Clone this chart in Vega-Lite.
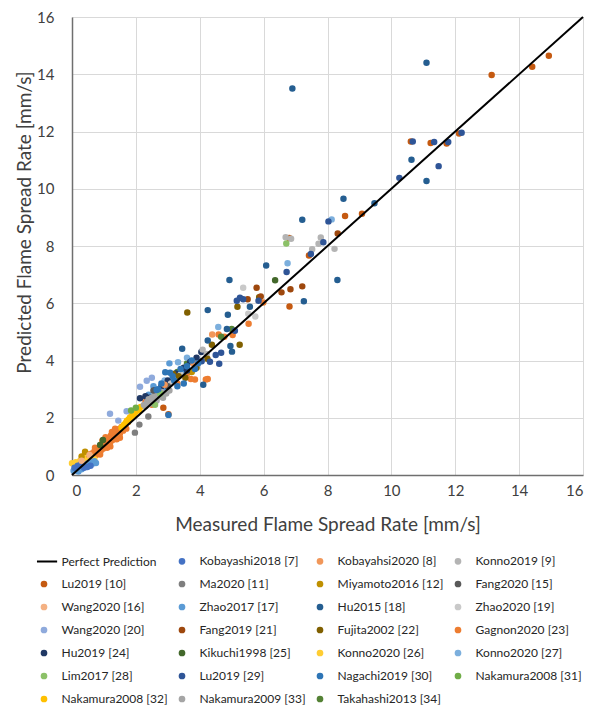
{
"$schema": "https://vega.github.io/schema/vega-lite/v6.json",
"width": 511, "height": 458,
"autosize": {"type": "none"},
"padding": {"left": 72, "top": 17, "right": 15, "bottom": 234},
"background": "white",
"config": {"font": "Lato", "view": {"stroke": null}},
"datasets": {
"line": [{"x": 0, "y": 0}, {"x": 16, "y": 16}],
"pts": [
{"s":"Gagnon2020 [23]","x":0.15,"y":0.35},{"s":"Gagnon2020 [23]","x":0.2,"y":0.3},{"s":"Gagnon2020 [23]","x":0.25,"y":0.45},{"s":"Gagnon2020 [23]","x":0.3,"y":0.38},{"s":"Gagnon2020 [23]","x":0.35,"y":0.5},{"s":"Gagnon2020 [23]","x":0.4,"y":0.42},{"s":"Gagnon2020 [23]","x":0.45,"y":0.6},{"s":"Gagnon2020 [23]","x":0.5,"y":0.5},{"s":"Gagnon2020 [23]","x":0.55,"y":0.65},{"s":"Gagnon2020 [23]","x":0.6,"y":0.55},{"s":"Gagnon2020 [23]","x":0.62,"y":0.75},{"s":"Gagnon2020 [23]","x":0.68,"y":0.62},{"s":"Gagnon2020 [23]","x":0.7,"y":0.82},{"s":"Gagnon2020 [23]","x":0.75,"y":0.7},{"s":"Gagnon2020 [23]","x":0.78,"y":0.9},{"s":"Gagnon2020 [23]","x":0.82,"y":0.78},{"s":"Gagnon2020 [23]","x":0.85,"y":0.95},{"s":"Gagnon2020 [23]","x":0.9,"y":0.85},{"s":"Gagnon2020 [23]","x":0.92,"y":1.05},{"s":"Gagnon2020 [23]","x":0.97,"y":0.92},{"s":"Gagnon2020 [23]","x":1.0,"y":1.1},{"s":"Gagnon2020 [23]","x":1.05,"y":0.98},{"s":"Gagnon2020 [23]","x":1.08,"y":1.2},{"s":"Gagnon2020 [23]","x":1.12,"y":1.05},{"s":"Gagnon2020 [23]","x":1.15,"y":1.3},{"s":"Gagnon2020 [23]","x":1.2,"y":1.15},{"s":"Gagnon2020 [23]","x":1.22,"y":1.38},{"s":"Gagnon2020 [23]","x":1.27,"y":1.22},{"s":"Gagnon2020 [23]","x":1.3,"y":1.45},{"s":"Gagnon2020 [23]","x":1.35,"y":1.3},{"s":"Gagnon2020 [23]","x":1.38,"y":1.52},{"s":"Gagnon2020 [23]","x":1.42,"y":1.38},{"s":"Gagnon2020 [23]","x":1.45,"y":1.6},{"s":"Gagnon2020 [23]","x":1.5,"y":1.45},{"s":"Gagnon2020 [23]","x":1.55,"y":1.68},{"s":"Gagnon2020 [23]","x":1.6,"y":1.55},{"s":"Gagnon2020 [23]","x":1.65,"y":1.75},{"s":"Gagnon2020 [23]","x":1.7,"y":1.62},{"s":"Gagnon2020 [23]","x":0.58,"y":0.45},{"s":"Gagnon2020 [23]","x":0.95,"y":1.2},{"s":"Gagnon2020 [23]","x":1.1,"y":0.95},{"s":"Gagnon2020 [23]","x":1.25,"y":1.5},{"s":"Gagnon2020 [23]","x":0.4,"y":0.3},{"s":"Gagnon2020 [23]","x":1.75,"y":1.85},{"s":"Gagnon2020 [23]","x":1.4,"y":1.25},
{"s":"Gagnon2020 [23]","x":0.5,"y":0.72},{"s":"Gagnon2020 [23]","x":0.72,"y":0.95},{"s":"Gagnon2020 [23]","x":0.88,"y":0.72},{"s":"Gagnon2020 [23]","x":1.05,"y":1.32},{"s":"Gagnon2020 [23]","x":1.2,"y":1.0},{"s":"Gagnon2020 [23]","x":1.35,"y":1.62},{"s":"Gagnon2020 [23]","x":1.5,"y":1.3},
{"s":"Gagnon2020 [23]","x":3.72,"y":3.35},{"s":"Gagnon2020 [23]","x":3.85,"y":3.34},{"s":"Gagnon2020 [23]","x":4.19,"y":3.34},{"s":"Gagnon2020 [23]","x":4.25,"y":3.35},{"s":"Gagnon2020 [23]","x":4.77,"y":4.83},{"s":"Gagnon2020 [23]","x":5.03,"y":4.89},{"s":"Gagnon2020 [23]","x":5.53,"y":5.28},{"s":"Gagnon2020 [23]","x":5.99,"y":6.03},{"s":"Gagnon2020 [23]","x":2.3,"y":2.55},{"s":"Gagnon2020 [23]","x":2.5,"y":2.45},{"s":"Gagnon2020 [23]","x":3.3,"y":3.2},{"s":"Gagnon2020 [23]","x":3.6,"y":3.55},{"s":"Gagnon2020 [23]","x":4.59,"y":4.91},
{"s":"Lu2019 [10]","x":13.14,"y":13.97},{"s":"Lu2019 [10]","x":14.41,"y":14.26},{"s":"Lu2019 [10]","x":14.93,"y":14.65},{"s":"Lu2019 [10]","x":10.61,"y":11.65},{"s":"Lu2019 [10]","x":11.23,"y":11.6},{"s":"Lu2019 [10]","x":11.73,"y":11.58},{"s":"Lu2019 [10]","x":12.12,"y":11.93},{"s":"Lu2019 [10]","x":9.08,"y":9.13},{"s":"Lu2019 [10]","x":8.55,"y":9.05},{"s":"Lu2019 [10]","x":7.42,"y":7.67},{"s":"Lu2019 [10]","x":6.8,"y":8.28},{"s":"Lu2019 [10]","x":6.81,"y":5.89},{"s":"Lu2019 [10]","x":2.86,"y":2.35},{"s":"Lu2019 [10]","x":3.02,"y":2.12},
{"s":"Nakamura2008 [32]","x":1.55,"y":1.65},{"s":"Nakamura2008 [32]","x":1.62,"y":1.75},{"s":"Nakamura2008 [32]","x":1.68,"y":1.82},{"s":"Nakamura2008 [32]","x":1.72,"y":1.9},{"s":"Nakamura2008 [32]","x":1.78,"y":1.95},{"s":"Nakamura2008 [32]","x":1.82,"y":2.02},{"s":"Nakamura2008 [32]","x":1.88,"y":2.08},{"s":"Nakamura2008 [32]","x":1.92,"y":2.15},{"s":"Nakamura2008 [32]","x":1.98,"y":2.2},{"s":"Nakamura2008 [32]","x":2.03,"y":2.28},{"s":"Nakamura2008 [32]","x":2.08,"y":2.32},{"s":"Nakamura2008 [32]","x":2.15,"y":2.38},{"s":"Nakamura2008 [32]","x":1.75,"y":1.85},{"s":"Nakamura2008 [32]","x":1.85,"y":2.0},{"s":"Nakamura2008 [32]","x":1.95,"y":2.12},{"s":"Nakamura2008 [32]","x":2.1,"y":2.25},
{"s":"Konno2020 [26]","x":0.0,"y":0.41},{"s":"Konno2020 [26]","x":0.25,"y":0.49},{"s":"Konno2020 [26]","x":0.51,"y":0.52},{"s":"Konno2020 [26]","x":0.41,"y":0.76},{"s":"Konno2020 [26]","x":0.6,"y":0.62},{"s":"Konno2020 [26]","x":0.7,"y":0.55},{"s":"Konno2020 [26]","x":0.35,"y":0.58},{"s":"Konno2020 [26]","x":0.12,"y":0.45},
{"s":"Miyamoto2016 [12]","x":0.41,"y":0.81},{"s":"Miyamoto2016 [12]","x":0.3,"y":0.65},{"s":"Miyamoto2016 [12]","x":3.75,"y":3.6},
{"s":"Kikuchi1998 [25]","x":0.97,"y":1.22},{"s":"Kikuchi1998 [25]","x":0.88,"y":1.05},{"s":"Kikuchi1998 [25]","x":6.36,"y":6.8},
{"s":"Takahashi2013 [34]","x":4.67,"y":4.83},{"s":"Takahashi2013 [34]","x":5.0,"y":5.1},{"s":"Takahashi2013 [34]","x":3.3,"y":3.6},{"s":"Takahashi2013 [34]","x":3.6,"y":3.9},
{"s":"Zhao2017 [17]","x":0.05,"y":0.15},{"s":"Zhao2017 [17]","x":0.1,"y":0.2},{"s":"Zhao2017 [17]","x":0.15,"y":0.18},{"s":"Zhao2017 [17]","x":0.2,"y":0.28},{"s":"Zhao2017 [17]","x":0.25,"y":0.22},{"s":"Zhao2017 [17]","x":0.3,"y":0.3},{"s":"Zhao2017 [17]","x":0.35,"y":0.29},{"s":"Zhao2017 [17]","x":0.4,"y":0.35},{"s":"Zhao2017 [17]","x":0.45,"y":0.3},{"s":"Zhao2017 [17]","x":0.5,"y":0.4},{"s":"Zhao2017 [17]","x":0.55,"y":0.36},{"s":"Zhao2017 [17]","x":0.6,"y":0.45},{"s":"Zhao2017 [17]","x":0.65,"y":0.4},{"s":"Zhao2017 [17]","x":0.7,"y":0.48},{"s":"Zhao2017 [17]","x":0.75,"y":0.42},{"s":"Zhao2017 [17]","x":0.2,"y":0.12},{"s":"Zhao2017 [17]","x":0.3,"y":0.2},{"s":"Zhao2017 [17]","x":2.4,"y":2.8},{"s":"Zhao2017 [17]","x":2.9,"y":3.0},{"s":"Zhao2017 [17]","x":3.5,"y":3.6},{"s":"Zhao2017 [17]","x":3.05,"y":3.9},{"s":"Zhao2017 [17]","x":2.55,"y":3.1},
{"s":"Kobayashi2018 [7]","x":0.08,"y":0.25},{"s":"Kobayashi2018 [7]","x":0.18,"y":0.32},{"s":"Kobayashi2018 [7]","x":0.28,"y":0.38},{"s":"Kobayashi2018 [7]","x":0.38,"y":0.25},{"s":"Kobayashi2018 [7]","x":0.48,"y":0.28},{"s":"Kobayashi2018 [7]","x":0.58,"y":0.32},
{"s":"Wang2020 [20]","x":1.19,"y":2.14},{"s":"Wang2020 [20]","x":1.71,"y":2.23},{"s":"Wang2020 [20]","x":2.13,"y":3.08},{"s":"Wang2020 [20]","x":2.34,"y":3.29},{"s":"Wang2020 [20]","x":2.5,"y":3.4},{"s":"Wang2020 [20]","x":1.45,"y":1.9},
{"s":"Konno2020 [27]","x":4.58,"y":5.17},{"s":"Konno2020 [27]","x":3.32,"y":3.94},{"s":"Konno2020 [27]","x":6.75,"y":7.4},{"s":"Konno2020 [27]","x":8.13,"y":8.93},{"s":"Konno2020 [27]","x":2.9,"y":3.3},{"s":"Konno2020 [27]","x":3.6,"y":4.1},
{"s":"Hu2019 [24]","x":2.13,"y":2.68},{"s":"Hu2019 [24]","x":2.44,"y":2.7},{"s":"Hu2019 [24]","x":2.6,"y":2.95},{"s":"Hu2019 [24]","x":2.8,"y":3.1},{"s":"Hu2019 [24]","x":3.0,"y":3.3},{"s":"Hu2019 [24]","x":3.25,"y":3.55},{"s":"Hu2019 [24]","x":3.5,"y":3.75},{"s":"Hu2019 [24]","x":3.7,"y":3.95},{"s":"Hu2019 [24]","x":3.9,"y":4.1},{"s":"Hu2019 [24]","x":4.05,"y":4.3},{"s":"Hu2019 [24]","x":2.3,"y":2.75},{"s":"Hu2019 [24]","x":3.6,"y":3.65},
{"s":"Nakamura2009 [33]","x":2.25,"y":2.45},{"s":"Nakamura2009 [33]","x":2.35,"y":2.55},{"s":"Nakamura2009 [33]","x":2.45,"y":2.5},{"s":"Nakamura2009 [33]","x":2.55,"y":2.65},{"s":"Nakamura2009 [33]","x":2.65,"y":2.6},{"s":"Nakamura2009 [33]","x":2.75,"y":2.75},{"s":"Nakamura2009 [33]","x":2.85,"y":2.7},{"s":"Nakamura2009 [33]","x":2.95,"y":2.85},{"s":"Nakamura2009 [33]","x":2.4,"y":2.65},{"s":"Nakamura2009 [33]","x":2.6,"y":2.8},{"s":"Nakamura2009 [33]","x":2.8,"y":2.9},{"s":"Nakamura2009 [33]","x":3.05,"y":2.95},{"s":"Nakamura2009 [33]","x":2.3,"y":2.4},{"s":"Nakamura2009 [33]","x":2.5,"y":2.7},{"s":"Nakamura2009 [33]","x":2.7,"y":2.85},
{"s":"Ma2020 [11]","x":1.97,"y":1.48},{"s":"Ma2020 [11]","x":2.11,"y":1.76},{"s":"Ma2020 [11]","x":2.39,"y":2.04},
{"s":"Konno2019 [9]","x":6.69,"y":8.31},{"s":"Konno2019 [9]","x":6.86,"y":8.25},{"s":"Konno2019 [9]","x":7.79,"y":8.3},{"s":"Konno2019 [9]","x":7.72,"y":8.08},{"s":"Konno2019 [9]","x":7.52,"y":7.89},{"s":"Konno2019 [9]","x":8.22,"y":7.9},{"s":"Konno2019 [9]","x":4.09,"y":4.38},{"s":"Konno2019 [9]","x":4.22,"y":4.23},
{"s":"Zhao2020 [19]","x":5.36,"y":6.54},{"s":"Zhao2020 [19]","x":5.52,"y":5.63},{"s":"Zhao2020 [19]","x":5.74,"y":5.54},{"s":"Zhao2020 [19]","x":3.1,"y":3.2},{"s":"Zhao2020 [19]","x":3.4,"y":3.5},
{"s":"Lim2017 [28]","x":6.71,"y":8.09},{"s":"Lim2017 [28]","x":2.76,"y":2.85},{"s":"Lim2017 [28]","x":2.6,"y":2.45},
{"s":"Nakamura2008 [31]","x":1.85,"y":2.25},{"s":"Nakamura2008 [31]","x":2.0,"y":2.35},
{"s":"Fujita2002 [22]","x":3.61,"y":5.68},{"s":"Fujita2002 [22]","x":5.18,"y":5.88},{"s":"Fujita2002 [22]","x":5.86,"y":6.21},{"s":"Fujita2002 [22]","x":4.38,"y":4.55},{"s":"Fujita2002 [22]","x":5.25,"y":4.55},{"s":"Fujita2002 [22]","x":4.24,"y":4.06},{"s":"Fujita2002 [22]","x":3.17,"y":3.53},{"s":"Fujita2002 [22]","x":3.34,"y":3.45},{"s":"Fujita2002 [22]","x":3.9,"y":3.75},{"s":"Fujita2002 [22]","x":3.55,"y":3.4},
{"s":"Fang2019 [21]","x":8.32,"y":8.44},{"s":"Fang2019 [21]","x":5.78,"y":6.54},{"s":"Fang2019 [21]","x":6.56,"y":6.38},{"s":"Fang2019 [21]","x":6.84,"y":6.49},{"s":"Fang2019 [21]","x":7.21,"y":6.59},{"s":"Fang2019 [21]","x":5.5,"y":6.14},{"s":"Fang2019 [21]","x":5.91,"y":6.24},
{"s":"Fang2020 [15]","x":2.55,"y":2.95},{"s":"Fang2020 [15]","x":3.0,"y":3.1},
{"s":"Kobayahsi2020 [8]","x":4.39,"y":4.91},{"s":"Kobayahsi2020 [8]","x":2.9,"y":3.15},{"s":"Kobayahsi2020 [8]","x":3.8,"y":3.9},
{"s":"Wang2020 [16]","x":0.3,"y":0.5},{"s":"Wang2020 [16]","x":0.55,"y":0.7},
{"s":"Hu2015 [18]","x":6.9,"y":13.5},{"s":"Hu2015 [18]","x":11.1,"y":14.4},{"s":"Hu2015 [18]","x":10.63,"y":11.01},{"s":"Hu2015 [18]","x":11.1,"y":10.27},{"s":"Hu2015 [18]","x":9.47,"y":9.49},{"s":"Hu2015 [18]","x":8.5,"y":9.65},{"s":"Hu2015 [18]","x":7.21,"y":8.92},{"s":"Hu2015 [18]","x":8.31,"y":6.81},{"s":"Hu2015 [18]","x":6.08,"y":7.32},{"s":"Hu2015 [18]","x":4.93,"y":6.81},{"s":"Hu2015 [18]","x":7.26,"y":6.07},{"s":"Hu2015 [18]","x":4.25,"y":5.76},{"s":"Hu2015 [18]","x":4.88,"y":5.6},{"s":"Hu2015 [18]","x":5.57,"y":5.88},{"s":"Hu2015 [18]","x":4.85,"y":5.1},{"s":"Hu2015 [18]","x":4.25,"y":4.7},{"s":"Hu2015 [18]","x":4.96,"y":4.51},{"s":"Hu2015 [18]","x":5.01,"y":4.31},{"s":"Hu2015 [18]","x":3.45,"y":4.41},{"s":"Hu2015 [18]","x":4.11,"y":3.15},
{"s":"Lu2019 [29]","x":10.67,"y":11.65},{"s":"Lu2019 [29]","x":11.34,"y":11.63},{"s":"Lu2019 [29]","x":11.78,"y":11.63},{"s":"Lu2019 [29]","x":12.2,"y":11.96},{"s":"Lu2019 [29]","x":11.48,"y":10.79},{"s":"Lu2019 [29]","x":10.25,"y":10.38},{"s":"Lu2019 [29]","x":8.03,"y":8.86},{"s":"Lu2019 [29]","x":7.87,"y":8.13},{"s":"Lu2019 [29]","x":7.48,"y":7.72},{"s":"Lu2019 [29]","x":6.72,"y":7.09},{"s":"Lu2019 [29]","x":5.16,"y":6.09},{"s":"Lu2019 [29]","x":5.26,"y":6.19},{"s":"Lu2019 [29]","x":5.36,"y":6.14},{"s":"Lu2019 [29]","x":5.84,"y":6.09},{"s":"Lu2019 [29]","x":5.1,"y":5.04},{"s":"Lu2019 [29]","x":4.67,"y":4.27},{"s":"Lu2019 [29]","x":4.5,"y":4.19},{"s":"Lu2019 [29]","x":4.32,"y":3.96},{"s":"Lu2019 [29]","x":4.61,"y":3.89},{"s":"Lu2019 [29]","x":4.06,"y":3.97},
{"s":"Nagachi2019 [30]","x":2.65,"y":2.97},{"s":"Nagachi2019 [30]","x":3.02,"y":2.1},{"s":"Nagachi2019 [30]","x":2.92,"y":3.59},{"s":"Nagachi2019 [30]","x":3.07,"y":3.57},{"s":"Nagachi2019 [30]","x":3.6,"y":3.8},{"s":"Nagachi2019 [30]","x":3.75,"y":4.0},{"s":"Nagachi2019 [30]","x":3.85,"y":3.7},{"s":"Nagachi2019 [30]","x":3.4,"y":3.7},{"s":"Nagachi2019 [30]","x":3.2,"y":3.3},{"s":"Nagachi2019 [30]","x":3.5,"y":3.2},{"s":"Nagachi2019 [30]","x":2.8,"y":3.2},{"s":"Nagachi2019 [30]","x":3.95,"y":3.9},{"s":"Nagachi2019 [30]","x":3.3,"y":3.1},{"s":"Nagachi2019 [30]","x":2.7,"y":3.0},{"s":"Nagachi2019 [30]","x":3.15,"y":3.45}
]},
"layer": [
{"data": {"name": "pts"},
 "mark": {"type": "point", "filled": false, "size": 20, "strokeWidth": 2, "opacity": 1},
 "encoding": {
  "x": {"field": "x", "type": "quantitative", "scale": {"domain": [0, 16], "nice": false},
        "axis": {"values": [0,2,4,6,8,10,12,14,16], "title": "Measured Flame Spread Rate [mm/s]", "grid": true, "gridColor": "#D9D9D9", "gridWidth": 1, "ticks": false, "domainColor": "#6F6F6F", "domainWidth": 1.5, "labelFontSize": 15, "labelColor": "#404040", "labelPadding": 8, "titleFontSize": 19, "titleFontWeight": "normal", "titleColor": "#404040", "titlePadding": 17}},
  "y": {"field": "y", "type": "quantitative", "scale": {"domain": [0, 16], "nice": false},
        "axis": {"values": [0,2,4,6,8,10,12,14,16], "title": "Predicted Flame Spread Rate [mm/s]", "grid": true, "gridColor": "#D9D9D9", "gridWidth": 1, "ticks": false, "domainColor": "#6F6F6F", "domainWidth": 1.5, "labelFontSize": 15, "labelColor": "#404040", "labelPadding": 18, "titleFontSize": 19, "titleFontWeight": "normal", "titleColor": "#404040", "titleY": 205, "titlePadding": 2}},
  "stroke": {"field": "s", "type": "nominal",
    "scale": {"domain": ["Perfect Prediction","Kobayashi2018 [7]","Kobayahsi2020 [8]","Konno2019 [9]","Lu2019 [10]","Ma2020 [11]","Miyamoto2016 [12]","Fang2020 [15]","Wang2020 [16]","Zhao2017 [17]","Hu2015 [18]","Zhao2020 [19]","Wang2020 [20]","Fang2019 [21]","Fujita2002 [22]","Gagnon2020 [23]","Hu2019 [24]","Kikuchi1998 [25]","Konno2020 [26]","Konno2020 [27]","Lim2017 [28]","Lu2019 [29]","Nagachi2019 [30]","Nakamura2008 [31]","Nakamura2008 [32]","Nakamura2009 [33]","Takahashi2013 [34]"],
      "range": ["#000000","#4472C4","#F1975A","#B4B4B4","#C55A11","#7F7F7F","#BF9000","#595959","#F4B183","#5B9BD5","#255E91","#C9C9C9","#8FAADC","#9E480E","#806000","#ED7D31","#203864","#43682B","#FFCD33","#7CAFDD","#8CC168","#2F5597","#2E75B6","#70AD47","#FFC000","#A5A5A5","#548235"]},
    "legend": {"title": null, "orient": "none", "direction": "horizontal", "legendX": -34, "legendY": 538, "columns": 4, "gridAlign": "all", "symbolSize": 22, "symbolStrokeWidth": 2, "labelFont": "Lato", "labelFontSize": 12, "labelColor": "#262626", "labelOffset": 11.6, "columnPadding": 7, "rowPadding": 9, "padding": 0, "labelLimit": 300, "symbolLimit": 0}},
  "fill": {"field": "s", "type": "nominal",
    "scale": {"domain": ["Perfect Prediction","Kobayashi2018 [7]","Kobayahsi2020 [8]","Konno2019 [9]","Lu2019 [10]","Ma2020 [11]","Miyamoto2016 [12]","Fang2020 [15]","Wang2020 [16]","Zhao2017 [17]","Hu2015 [18]","Zhao2020 [19]","Wang2020 [20]","Fang2019 [21]","Fujita2002 [22]","Gagnon2020 [23]","Hu2019 [24]","Kikuchi1998 [25]","Konno2020 [26]","Konno2020 [27]","Lim2017 [28]","Lu2019 [29]","Nagachi2019 [30]","Nakamura2008 [31]","Nakamura2008 [32]","Nakamura2009 [33]","Takahashi2013 [34]"],
      "range": ["transparent","#4472C4","#F1975A","#B4B4B4","#C55A11","#7F7F7F","#BF9000","#595959","#F4B183","#5B9BD5","#255E91","#C9C9C9","#8FAADC","#9E480E","#806000","#ED7D31","#203864","#43682B","#FFCD33","#7CAFDD","#8CC168","#2F5597","#2E75B6","#70AD47","#FFC000","#A5A5A5","#548235"]},
    "legend": {"title": null, "orient": "none", "direction": "horizontal", "legendX": -34, "legendY": 538, "columns": 4, "gridAlign": "all", "symbolSize": 22, "symbolStrokeWidth": 2, "labelFont": "Lato", "labelFontSize": 12, "labelColor": "#262626", "labelOffset": 11.6, "columnPadding": 7, "rowPadding": 9, "padding": 0, "labelLimit": 300, "symbolLimit": 0}},
  "shape": {"field": "s", "type": "nominal",
    "scale": {"domain": ["Perfect Prediction","Kobayashi2018 [7]","Kobayahsi2020 [8]","Konno2019 [9]","Lu2019 [10]","Ma2020 [11]","Miyamoto2016 [12]","Fang2020 [15]","Wang2020 [16]","Zhao2017 [17]","Hu2015 [18]","Zhao2020 [19]","Wang2020 [20]","Fang2019 [21]","Fujita2002 [22]","Gagnon2020 [23]","Hu2019 [24]","Kikuchi1998 [25]","Konno2020 [26]","Konno2020 [27]","Lim2017 [28]","Lu2019 [29]","Nagachi2019 [30]","Nakamura2008 [31]","Nakamura2008 [32]","Nakamura2009 [33]","Takahashi2013 [34]"],
      "range": ["M-3,0H5.6","circle","circle","circle","circle","circle","circle","circle","circle","circle","circle","circle","circle","circle","circle","circle","circle","circle","circle","circle","circle","circle","circle","circle","circle","circle","circle"]},
    "legend": {"title": null, "orient": "none", "direction": "horizontal", "legendX": -34, "legendY": 538, "columns": 4, "gridAlign": "all", "symbolSize": 22, "symbolStrokeWidth": 2, "labelFont": "Lato", "labelFontSize": 12, "labelColor": "#262626", "labelOffset": 11.6, "columnPadding": 7, "rowPadding": 9, "padding": 0, "labelLimit": 300, "symbolLimit": 0}}
 }},
{"data": {"name": "line"},
 "mark": {"type": "line", "color": "#000000", "strokeWidth": 2},
 "encoding": {"x": {"field": "x", "type": "quantitative"}, "y": {"field": "y", "type": "quantitative"}}}
]
}
